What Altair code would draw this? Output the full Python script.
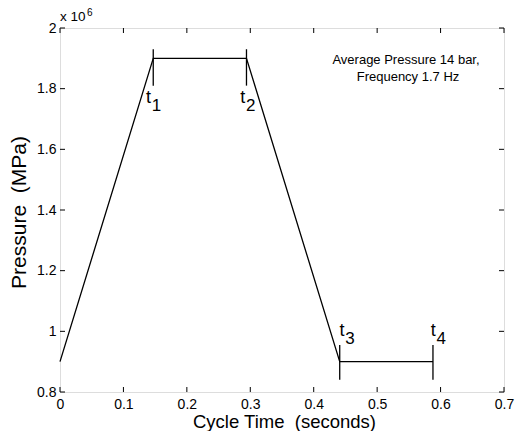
import altair as alt
import pandas as pd

# ---- data (pressure in units of 10^6 Pa) ----
cycle_time = [0.0, 0.147, 0.294, 0.441, 0.588]
pressure = [0.90, 1.90, 1.90, 0.90, 0.90]

marker_time = [0.147, 0.294, 0.441, 0.588]
marker_low = [1.81, 1.81, 0.84, 0.84]
marker_high = [1.93, 1.93, 0.955, 0.955]

label_main = ["t", "t", "t", "t"]
label_sub = ["1", "2", "3", "4"]
label_x = [0.1394, 0.288, 0.4445, 0.5885]
label_y = [1.753, 1.753, 0.985, 0.985]

x_ticks = [0, 0.1, 0.2, 0.3, 0.4, 0.5, 0.6, 0.7]
y_ticks = [0.8, 1.0, 1.2, 1.4, 1.6, 1.8, 2.0]

annotation = ["Average Pressure 14 bar,", " Frequency 1.7 Hz"]

W, H = 444, 364
FONT = "Liberation Sans"
NB = "\u00a0"

curve_df = pd.DataFrame({"t": cycle_time, "p": pressure})
marker_df = pd.DataFrame({"t": marker_time, "lo": marker_low, "hi": marker_high})
label_df = pd.DataFrame({"x": label_x, "y": label_y, "main": label_main, "sub": label_sub})
xt_df = pd.DataFrame({"v": x_ticks})
yt_df = pd.DataFrame({"v": y_ticks})

xscale = alt.Scale(domain=[0, 0.7], nice=False, zero=False)
yscale = alt.Scale(domain=[0.8, 2.0], nice=False, zero=False)

xaxis = alt.Axis(values=x_ticks, format="~g", ticks=False, tickSize=0, domain=False, grid=False,
                 labelFlush=False, labelOverlap=False,
                 labelFont=FONT, labelFontSize=14, labelColor="black", labelPadding=5,
                 title="Cycle Time" + NB + NB + "(seconds)", titleFont=FONT, titleFontSize=18.5,
                 titleFontWeight="normal", titleColor="black",
                 titleX=224, titleY=35, titleBaseline="alphabetic", titleAlign="center")
yaxis = alt.Axis(values=y_ticks, format="~g", ticks=False, tickSize=0, domain=False, grid=False,
                 labelFlush=False, labelOverlap=False,
                 labelFont=FONT, labelFontSize=14, labelColor="black", labelPadding=4,
                 title="Pressure" + NB + NB + "(MPa)", titleFont=FONT, titleFontSize=21,
                 titleFontWeight="normal", titleColor="black",
                 titleX=-41, titleY=184, titleAngle=-90, titleBaseline="middle", titleAlign="center")

curve = alt.Chart(curve_df).mark_line(color="black", strokeWidth=1.3).encode(
    x=alt.X("t:Q", scale=xscale, axis=xaxis),
    y=alt.Y("p:Q", scale=yscale, axis=yaxis),
)

markers = alt.Chart(marker_df).mark_rule(color="black", strokeWidth=1.3).encode(
    x="t:Q", y="lo:Q", y2="hi:Q"
)

t_main = alt.Chart(label_df).mark_text(font=FONT, fontSize=18, align="center",
                                       baseline="alphabetic", color="black").encode(
    x="x:Q", y="y:Q", text="main:N"
)
t_sub = alt.Chart(label_df).mark_text(font=FONT, fontSize=17, align="center",
                                      baseline="alphabetic", color="black", dx=8, dy=8).encode(
    x="x:Q", y="y:Q", text="sub:N"
)

tick_len = 5
xt_bottom = alt.Chart(xt_df).mark_rule(color="black").encode(
    x="v:Q", y=alt.value(H), y2=alt.value(H - tick_len))
xt_top = alt.Chart(xt_df).mark_rule(color="black").encode(
    x="v:Q", y=alt.value(0), y2=alt.value(tick_len))
yt_left = alt.Chart(yt_df).mark_rule(color="black").encode(
    y="v:Q", x=alt.value(0), x2=alt.value(tick_len))
yt_right = alt.Chart(yt_df).mark_rule(color="black").encode(
    y="v:Q", x=alt.value(W), x2=alt.value(W - tick_len))

note1 = alt.Chart(pd.DataFrame({"s": [annotation[0]]})).mark_text(
    font=FONT, fontSize=13, align="center", baseline="middle", color="black"
).encode(text="s:N", x=alt.value(346), y=alt.value(32))
note2 = alt.Chart(pd.DataFrame({"s": [annotation[1]]})).mark_text(
    font=FONT, fontSize=13, align="center", baseline="middle", color="black"
).encode(text="s:N", x=alt.value(348), y=alt.value(49))

exp_base = alt.Chart(pd.DataFrame({"s": ["x 10"]})).mark_text(
    font=FONT, fontSize=13.5, align="left", baseline="middle", color="black"
).encode(text="s:N", x=alt.value(0), y=alt.value(-11))
exp_sup = alt.Chart(pd.DataFrame({"s": ["6"]})).mark_text(
    font=FONT, fontSize=10, align="left", baseline="middle", color="black"
).encode(text="s:N", x=alt.value(27), y=alt.value(-15))

chart = alt.layer(
    curve, markers, t_main, t_sub, xt_bottom, xt_top, yt_left, yt_right,
    note1, note2, exp_base, exp_sup
).properties(
    width=W, height=H,
    autosize=alt.AutoSizeParams(type="none"),
    padding={"left": 52, "top": 20, "right": 11, "bottom": 39},
).configure_view(
    stroke="black", strokeWidth=1.3
).configure(background="white")

chart.save("out.html", embed_options={"renderer": "svg", "actions": False})
